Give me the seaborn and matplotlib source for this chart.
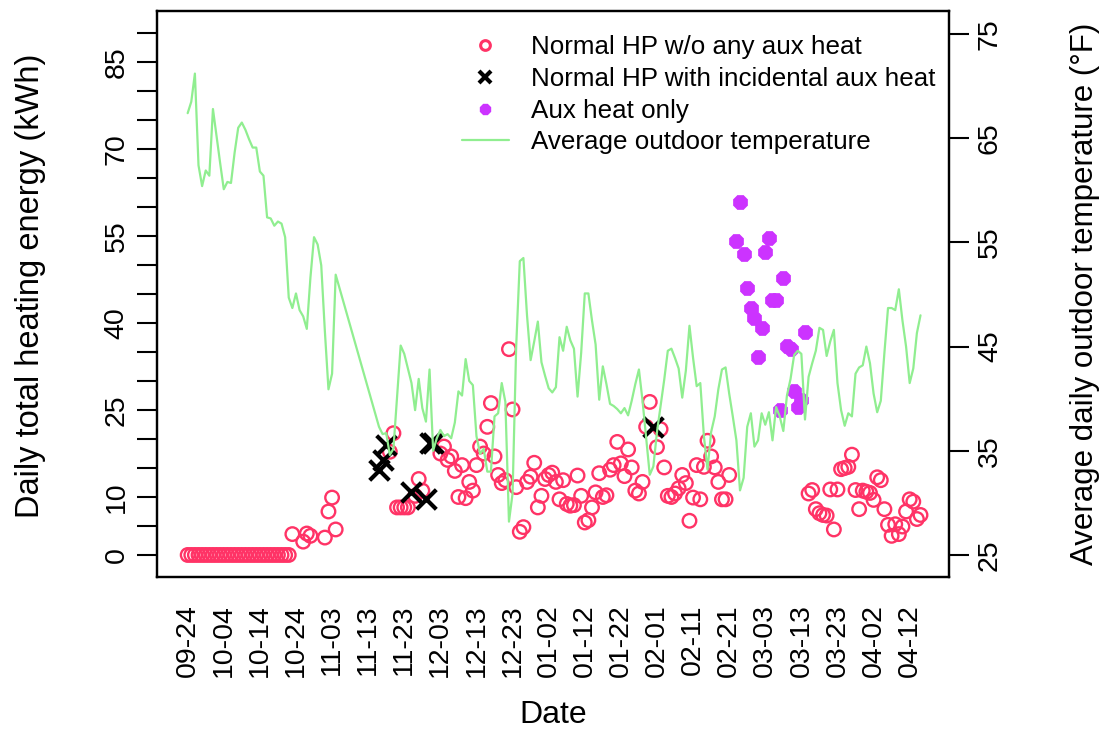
import matplotlib
matplotlib.use("Agg")
import matplotlib.pyplot as plt
from matplotlib.lines import Line2D
import pandas as pd
import seaborn as sns

# ---- data (x = days since 2022-09-24) ----
tick_day = [0, 10, 20, 30, 40, 50, 60, 70, 80, 90, 100, 110, 120, 130, 140,
            150, 160, 170, 180, 190, 200]
tick_labels = ["09-24", "10-04", "10-14", "10-24", "11-03", "11-13", "11-23",
               "12-03", "12-13", "12-23", "01-02", "01-12", "01-22", "02-01",
               "02-11", "02-21", "03-03", "03-13", "03-23", "04-02", "04-12"]

# average daily outdoor temperature (°F); no records for days 42-52
temp_day = list(range(0, 42)) + list(range(53, 204))
temp_f = [
    67.4, 68.5, 71.2, 62.4, 60.4, 61.9, 61.4, 67.8, 65.2, 62.6,
    60.1, 60.8, 60.7, 63.6, 66.0, 66.5, 65.8, 64.9, 64.1, 64.1,
    61.8, 61.4, 57.4, 57.3, 56.6, 57.0, 56.8, 55.5, 49.7, 48.7,
    50.1, 48.5, 47.9, 46.7, 51.6, 55.5, 54.8, 52.8, 46.5, 40.9,
    42.4, 51.9,
    37.3, 36.6, 36.7, 34.6, 35.2, 40.1, 45.1, 44.3, 42.9, 41.5,
    38.9, 41.9, 39.1, 37.8, 42.8, 35.0, 36.2, 37.0, 36.4, 36.6,
    36.2, 37.7, 40.7, 40.3, 43.8, 41.7, 41.3, 36.4, 34.7, 35.2,
    33.0, 33.0, 38.3, 38.6, 41.5, 39.7, 28.2, 30.9, 45.0, 53.2,
    53.5, 48.0, 43.7, 45.5, 47.4, 43.5, 42.2, 41.0, 40.6, 41.1,
    45.9, 44.6, 46.9, 45.6, 44.8, 40.2, 44.4, 50.1, 50.1, 47.5,
    45.2, 39.9, 43.1, 41.4, 39.5, 39.3, 39.0, 38.6, 39.1, 38.4,
    39.8, 41.4, 42.8, 39.8, 36.3, 32.7, 33.5, 36.8, 39.3, 41.8,
    44.6, 44.8, 43.9, 42.9, 40.1, 42.7, 47.0, 43.9, 41.2, 41.5,
    36.4, 33.2, 36.8, 38.3, 40.9, 42.8, 43.0, 40.5, 38.3, 36.0,
    31.2, 32.4, 37.3, 38.6, 35.4, 36.0, 38.6, 37.5, 38.7, 36.0,
    39.2, 38.3, 36.9, 40.3, 41.9, 44.2, 44.6, 44.3, 38.0, 42.1,
    43.4, 44.6, 46.8, 46.6, 44.1, 45.5, 46.6, 41.5, 38.9, 37.4,
    38.6, 38.3, 42.4, 43.0, 43.2, 45.0, 43.4, 40.5, 38.7, 39.8,
    44.4, 48.7, 48.7, 48.5, 50.5, 47.5, 45.0, 41.5, 42.9, 46.3,
    48.0,
]

# daily heating energy (kWh), by operating mode
normal_day = list(range(0, 29)) + [
    29, 32, 33, 34, 38, 39, 40, 41,
    56, 57, 58, 59, 60, 61, 63, 64, 65,
    70, 71, 72, 73, 74, 75, 76, 77, 78, 79, 80, 81, 82, 83, 84, 85, 86, 87,
    88, 89, 90, 91, 92, 93, 94, 95, 96, 97, 98, 99, 100, 101, 102, 103, 104,
    105, 106, 107, 108, 109, 110, 111, 112, 113, 114, 115, 116, 117, 118,
    119, 120, 121, 122, 123, 124, 125, 126, 127, 128, 130, 131, 132, 133,
    134, 135, 136, 137, 138, 139, 140, 141, 142, 143, 144, 145, 146, 147,
    148, 149, 150,
    172, 173, 174, 175, 176, 177, 178, 179, 180, 181, 182, 183, 184, 185,
    186, 187, 188, 189, 190, 191, 192, 193, 194, 195, 196, 197, 198, 199,
    200, 201, 202, 203]
normal_kwh = [0.0] * 29 + [
    3.6, 2.3, 3.7, 3.3, 3.0, 7.5, 9.9, 4.4,
    17.8, 21.0, 8.2, 8.2, 8.2, 8.2, 10.2, 13.1, 11.1,
    17.5, 18.7, 16.4, 17.0, 14.5, 10.0, 15.5, 9.8, 12.6, 11.1, 15.5, 18.7,
    17.5, 22.1, 26.2, 17.0, 13.8, 12.4,
    12.9, 35.5, 25.1, 11.7, 4.0, 4.8, 12.6, 13.5, 15.9, 8.2, 10.2, 13.1,
    13.8, 14.2, 12.6, 9.6, 12.9,
    8.8, 8.5, 8.6, 13.7, 10.2, 5.6, 6.0, 8.2, 10.8, 14.1, 10.0, 10.3, 14.7,
    15.5, 19.5, 15.8, 13.6, 18.2, 15.1, 11.1, 10.6, 12.6, 22.1, 26.4, 18.6,
    21.7, 15.1, 10.2, 10.0, 10.6, 11.5, 13.8, 12.4, 5.9, 9.9, 15.5, 9.6,
    15.2, 19.7, 17.0, 15.1, 12.6, 9.6, 9.6, 13.8,
    10.6, 11.2, 7.9, 7.2, 6.9, 6.8, 11.3, 4.4, 11.3, 14.8, 15.0, 15.2, 17.3,
    11.2, 7.9, 11.1, 10.9, 10.7, 9.5, 13.4, 12.9, 7.9, 5.2, 3.3, 5.3, 3.6,
    4.9, 7.5, 9.6, 9.2, 6.2, 6.9]

incidental_day = [53, 54, 55, 62, 66, 67, 68, 129]
incidental_kwh = [14.7, 16.4, 19.0, 10.9, 9.7, 19.3, 19.3, 22.1]

aux_day = [152, 153, 154, 155, 156, 157, 158, 159, 160, 161, 162, 163, 164,
           165, 166, 167, 168, 169, 170, 171]
aux_kwh = [54.2, 60.8, 51.9, 46.0, 42.6, 40.9, 34.2, 39.1, 52.2, 54.6, 43.9,
           43.9, 25.0, 47.7, 36.1, 35.5, 28.2, 25.6, 26.7, 38.4]

kwh_ticks = [0, 10, 25, 40, 55, 70, 85]
temp_ticks = [25, 35, 45, 55, 65, 75]

# ---- style ----
RED = "#FF3366"
PURPLE = "#CC33FF"
GREEN = "#90EE90"

sns.set_style("white")
plt.rcParams["font.family"] = ["Liberation Sans", "DejaVu Sans"]
plt.rcParams.update({
    "axes.linewidth": 1.6,
    "text.color": "black",
    "axes.labelcolor": "black",
    "xtick.color": "black",
    "ytick.color": "black",
    "axes.edgecolor": "black",
})

fig = plt.figure(figsize=(11.06, 7.30), dpi=100)
ax = fig.add_axes([0.1422, 0.2092, 0.7161, 0.7758])
ax2 = ax.twinx()

sns.scatterplot(x=normal_day, y=normal_kwh, ax=ax, marker="o", s=95,
                facecolors="none", edgecolor=RED, linewidth=1.7, zorder=3)
sns.scatterplot(x=incidental_day, y=incidental_kwh, ax=ax, marker="x", s=200,
                color="black", linewidth=3.0, zorder=4)
sns.scatterplot(x=aux_day, y=aux_kwh, ax=ax, marker="8", s=120,
                color=PURPLE, edgecolor=PURPLE, linewidth=0.5, zorder=3)
sns.lineplot(x=temp_day, y=temp_f, ax=ax2, color=GREEN, linewidth=1.6,
             estimator=None, sort=False)

# ---- axes ----
ax.set_xlim(-8.42, 210.97)
ax.set_ylim(-3.85, 93.84)
ax2.set_ylim(22.86, 77.21)

ax.set_xticks(tick_day)
ax.set_xticklabels(tick_labels, rotation=90, fontsize=20.5)
ax.set_yticks(list(range(0, 95, 5)))
ax.set_yticklabels([str(v) if v in kwh_ticks else "" for v in range(0, 95, 5)],
                   rotation=90, va="center", fontsize=20.5)
ax2.set_yticks(temp_ticks)
ax2.set_yticklabels([str(v) for v in temp_ticks], rotation=90, va="center",
                    fontsize=20.5)

ax.tick_params(axis="both", direction="out", length=14.4, width=1.5,
               color="black", labelcolor="black", pad=5.5)
ax.tick_params(axis="x", pad=5)
ax2.tick_params(axis="y", direction="out", length=14.4, width=1.5,
                color="black", labelcolor="black", pad=5.5)

for a in (ax, ax2):
    for sp in a.spines.values():
        sp.set_visible(True)
        sp.set_color("black")
        sp.set_linewidth(1.6)

ax.set_xlabel("Date", fontsize=23)
ax.set_ylabel("Daily total heating energy (kWh)", fontsize=23.5)
ax2.set_ylabel("Average daily outdoor temperature (°F)", fontsize=22.5,
               rotation=90)
ax.xaxis.label.set_verticalalignment("center")
ax.yaxis.label.set_verticalalignment("center")
ax2.yaxis.label.set_verticalalignment("center")
ax.xaxis.set_label_coords(0.5, -0.2432)
ax.yaxis.set_label_coords(-0.1602, 0.515)
ax2.yaxis.set_label_coords(1.1715, 0.5)

handles = [
    Line2D([], [], ls="none", marker="o", ms=7, mfc="none", mec=RED, mew=2.2),
    Line2D([], [], ls="none", marker="x", ms=9, color="black", mew=3),
    Line2D([], [], ls="none", marker="8", ms=7.5, color=PURPLE),
    Line2D([], [], color=GREEN, lw=1.6),
]
labels = ["Normal HP w/o any aux heat", "Normal HP with incidental aux heat",
          "Aux heat only", "Average outdoor temperature"]
ax2.legend(handles, labels, loc="upper left", bbox_to_anchor=(0.4177, 0.952),
           bbox_transform=fig.transFigure, frameon=False, fontsize=18.7,
           handlelength=1.8, handletextpad=0.86, labelspacing=0.30,
           borderpad=0, borderaxespad=0)

fig.savefig("out.png", dpi=100)
